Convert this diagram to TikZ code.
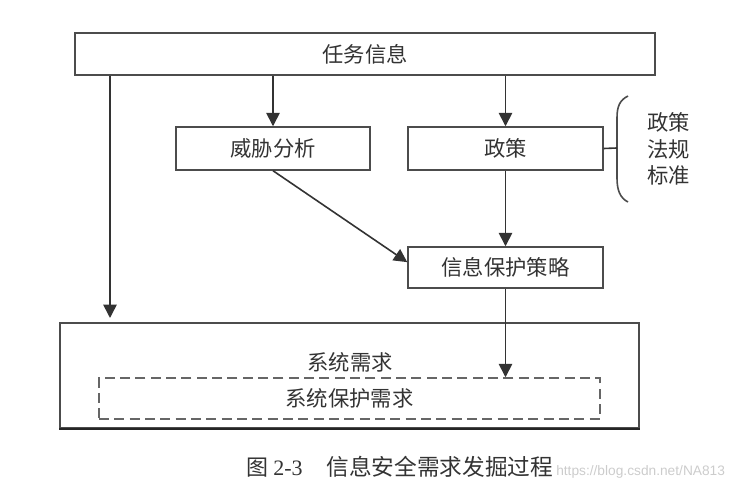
\documentclass[tikz,border=0pt]{standalone}
\usepackage{fontspec}
\setmainfont{Liberation Serif}
\newfontfamily\cjk{Noto Sans CJK SC}
\newfontfamily\wmfont{Liberation Sans}
\usetikzlibrary{arrows.meta}
\begin{document}
\begin{tikzpicture}[line cap=butt,line join=miter,>={Triangle[length=10pt,width=10pt]},x=0.75pt,y=-0.75pt]
	\tikzset{wenzi/.style={inner sep=0pt,font=\cjk\fontsize{16}{20}\selectfont,text=black!80},
		kuang/.style={wenzi,draw=black!70,line width=1.1pt,minimum height=32.25pt},
		xian/.style={draw=black!80,line width=1.2pt}}
	\useasboundingbox (0,0) rectangle (736,495);
	\node[kuang,minimum width=435pt,minimum height=31.5pt] (renwu) at (365,54) {任务信息};
	\node[kuang,minimum width=145.5pt] (weixie) at (273,148.5) {威胁分析};
	\node[kuang,minimum width=146.25pt] (zhengce) at (505.5,148.5) {政策};
	\node[kuang,minimum width=146.25pt,minimum height=30.75pt] (celue) at (505.5,267.5) {信息保护策略};
	\node[kuang,minimum width=434.25pt,minimum height=78.75pt] (xuqiu) at (349.5,375.5) {};
	\node[wenzi] (xuqiutxt) at (350,362) {系统需求};
	\node[kuang,dashed,dash pattern=on 7.5pt off 4pt,draw=black!60,minimum width=375.75pt,minimum height=30.75pt] (baohu) at (349.5,398.5) {系统保护需求};
	\node[wenzi,align=center] (fagui) at (668.5,149) {政策\\法规\\标准};
	% bracket next to the policy box
	\coordinate (kuohao) at (617,148);
	\draw[xian,draw=black!70] (628,96) .. controls (620,100) and (617,106) .. (617,118) -- (617,178) .. controls (617,190) and (620,198) .. (628,202);
	\draw[xian] (zhengce.east) -- (kuohao);
	\coordinate (zuo) at (110,318);
	\draw[xian,->] (renwu.south -| zuo) -- (zuo);
	\draw[xian,->] (renwu.south -| weixie.north) -- (weixie.north);
	\draw[xian,->] (renwu.south -| zhengce.north) -- (zhengce.north);
	\draw[xian,->] (zhengce.south) -- (celue.north);
	\draw[xian,->] (weixie.south) -- ([yshift=4pt]celue.west);
	\draw[xian,->] (celue.south) -- (celue.south |- baohu.north);
	\draw[draw=black!85,line width=1.6pt] (xuqiu.south west) -- (xuqiu.south east);
	\node[font=\fontsize{16.5}{20}\selectfont,text=black!80] (tuming) at (400,467) {{\cjk 图}\hspace{3.5pt}2-3\hspace{18pt}{\cjk\fontsize{17}{20}\selectfont 信息安全需求发掘过程}};
	\node[anchor=west,inner sep=0pt,font=\wmfont\fontsize{10.3}{12}\selectfont,text=black!20] (shuiyin) at (556,472) {https://blog.csdn.net/NA813};
\end{tikzpicture}
\end{document}
